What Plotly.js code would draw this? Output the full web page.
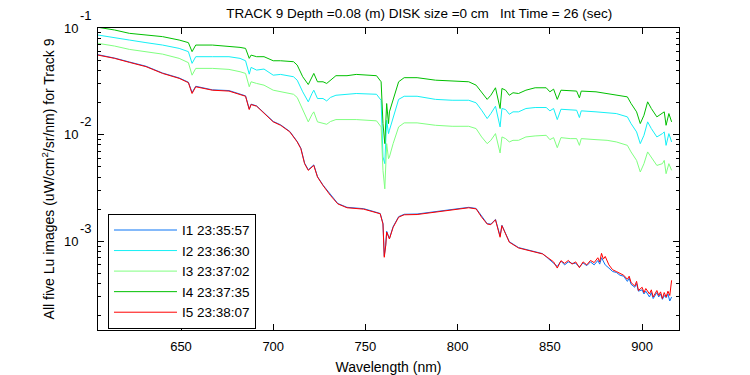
<!DOCTYPE html>
<html>
<head>
<meta charset="utf-8">
<script src="https://cdn.plot.ly/plotly-3.0.1.min.js"></script>
<style>html,body{margin:0;padding:0;background:#fff;}#chart{width:750px;height:375px;}</style>
</head>
<body>
<div id="chart"></div>
<script>
// Wavelength grid (nm) for the three upper spectra
const wlUpper = [605, 609, 614, 622, 631, 640, 649, 654, 656, 658,
  667, 676, 682, 685, 687, 688, 691, 695, 700, 704,
  711, 713, 716, 719, 721, 722, 724, 727, 729, 731,
  734, 740, 745, 756, 758.5, 759.5, 760.5, 761.5, 762.5, 763,
  765, 768, 771, 778, 788, 797, 806, 810, 813, 816,
  818, 820.5, 823, 824, 826, 828, 830, 833, 837, 842,
  848, 850, 852, 854, 856, 861, 864.5, 866, 867, 875,
  881, 886, 892, 894, 897, 899, 901, 903, 905, 908,
  911, 912, 913, 914.5, 916];

// I2 (cyan)
const lu2 = [0.0859, 0.0835, 0.0818, 0.0771, 0.0729, 0.0692, 0.0644, 0.0600, 0.0466, 0.0538,
  0.0538, 0.0538, 0.0519, 0.0493, 0.0369, 0.0427, 0.0403, 0.0412, 0.0361, 0.0367,
  0.0349, 0.0324, 0.0252, 0.0203, 0.0243, 0.0261, 0.0218, 0.0218, 0.0207, 0.0223,
  0.0234, 0.0238, 0.0243, 0.0239, 0.0210, 0.00617, 0.00534, 0.01363, 0.01022, 0.01098,
  0.01414, 0.0214, 0.0229, 0.0229, 0.0214, 0.0210, 0.0210, 0.01987, 0.01693, 0.01414,
  0.01576, 0.01846, 0.01181, 0.01757, 0.01718, 0.01552, 0.01635, 0.01635, 0.01757, 0.01795,
  0.01795, 0.01671, 0.01757, 0.01384, 0.01729, 0.01693, 0.01693, 0.01445, 0.01671, 0.01635,
  0.01611, 0.01576, 0.01467, 0.01269, 0.01060, 0.00823, 0.00985, 0.01317, 0.01139, 0.00951,
  0.01022, 0.01060, 0.00793, 0.01022, 0.00854];

// I3 (light green)
const lu3 = [0.0718, 0.0703, 0.0677, 0.0630, 0.0600, 0.0569, 0.0519, 0.0473, 0.0361, 0.0418,
  0.0418, 0.0409, 0.0389, 0.0375, 0.0281, 0.0313, 0.0302, 0.0291, 0.0261, 0.0252,
  0.0239, 0.0223, 0.01693, 0.01317, 0.01542, 0.01635, 0.01317, 0.01269, 0.01250, 0.01326,
  0.01384, 0.01384, 0.01384, 0.01346, 0.01181, 0.00462, 0.00310, 0.00823, 0.00594, 0.00617,
  0.00823, 0.01181, 0.01289, 0.01289, 0.01223, 0.01197, 0.01197, 0.01139, 0.00951, 0.00823,
  0.00884, 0.01022, 0.00673, 0.00951, 0.00917, 0.00854, 0.00884, 0.00884, 0.00951, 0.00972,
  0.00985, 0.00897, 0.00937, 0.00754, 0.00937, 0.00917, 0.00917, 0.00793, 0.00917, 0.00897,
  0.00884, 0.00854, 0.00793, 0.00688, 0.00573, 0.00446, 0.00534, 0.00688, 0.00617, 0.00514,
  0.00534, 0.00573, 0.00430, 0.00534, 0.00462];

// I4 (green)
const lu4 = [0.1015, 0.0994, 0.0958, 0.0891, 0.0859, 0.0830, 0.0771, 0.0729, 0.0600, 0.0692,
  0.0692, 0.0677, 0.0658, 0.0644, 0.0519, 0.0557, 0.0538, 0.0538, 0.0493, 0.0493,
  0.0483, 0.0449, 0.0349, 0.0295, 0.0349, 0.0375, 0.0313, 0.0313, 0.0302, 0.0324,
  0.0357, 0.0357, 0.0367, 0.0357, 0.0313, 0.01269, 0.00823, 0.01957, 0.01269, 0.01635,
  0.0210, 0.0313, 0.0342, 0.0342, 0.0324, 0.0317, 0.0313, 0.0291, 0.0252, 0.0214,
  0.0234, 0.0275, 0.01757, 0.0271, 0.0261, 0.0234, 0.0247, 0.0243, 0.0261, 0.0275,
  0.0275, 0.0252, 0.0267, 0.0214, 0.0261, 0.0256, 0.0256, 0.0221, 0.0256, 0.0252,
  0.0243, 0.0238, 0.0226, 0.0196, 0.01635, 0.01269, 0.01519, 0.0203, 0.01757, 0.01467,
  0.01576, 0.01635, 0.01223, 0.01576, 0.01317];

// Wavelength grid (nm) for the two lower spectra
const wlLower = [605, 609, 614, 622, 631, 640, 649, 654, 656, 658,
  667, 676, 682, 685, 687, 688, 691, 695, 700, 704,
  709, 713, 715, 717, 719, 722, 724, 727, 731, 735,
  740, 749, 754, 758, 759.5, 760.2, 761, 761.5, 763, 765,
  768, 771, 778, 788, 797, 806, 810, 813, 816, 818,
  820.5, 823, 824, 826, 828, 833, 837, 842, 846, 848,
  850, 852, 854, 856, 858, 860, 862, 864, 866, 868,
  870, 872, 874, 876, 877, 878, 879, 880, 882, 884,
  886, 888, 890, 892, 893, 894, 896, 897, 898, 900,
  901, 902, 904, 905, 906, 908, 909, 910, 911, 912,
  913, 914, 915, 916];

// I1 (blue)
const lu1 = [0.0562, 0.0545, 0.0522, 0.0480, 0.0438, 0.0378, 0.0340, 0.0310, 0.0248, 0.0284,
  0.0263, 0.0259, 0.0241, 0.0231, 0.01740, 0.01930, 0.01860, 0.01590, 0.01330, 0.01235,
  0.01070, 0.00862, 0.00745, 0.00540, 0.00468, 0.00520, 0.00404, 0.00336, 0.00272, 0.00226,
  0.00208, 0.00202, 0.00191, 0.00182, 0.00147, 0.000730, 0.000925, 0.00124, 0.00106, 0.00137,
  0.00170, 0.00179, 0.00180, 0.00189, 0.00199, 0.00208, 0.00203, 0.00170, 0.00146, 0.00145,
  0.00160, 0.00112, 0.00141, 0.00118, 0.000990, 0.000872, 0.000840, 0.000805, 0.000765, 0.000715,
  0.000670, 0.000630, 0.000580, 0.000650, 0.000600, 0.000640, 0.000620, 0.000620, 0.000575, 0.000625,
  0.000590, 0.000640, 0.000600, 0.000660, 0.000610, 0.000700, 0.000650, 0.000600, 0.000560, 0.000520,
  0.000510, 0.000480, 0.000470, 0.000420, 0.000450, 0.000395, 0.000370, 0.000400, 0.000340, 0.000350,
  0.000320, 0.000340, 0.000300, 0.000330, 0.000290, 0.000330, 0.000300, 0.000320, 0.000285, 0.000310,
  0.000295, 0.000320, 0.000275, 0.000300];

// I5 (red)
const lu5 = [0.0557, 0.0540, 0.0519, 0.0476, 0.0434, 0.0375, 0.0337, 0.0307, 0.0243, 0.0281,
  0.0261, 0.0256, 0.0239, 0.0229, 0.01718, 0.01915, 0.01846, 0.01576, 0.01317, 0.01223,
  0.01060, 0.00854, 0.00738, 0.00534, 0.00462, 0.00514, 0.00400, 0.00333, 0.00269, 0.00224,
  0.00206, 0.00200, 0.00190, 0.00181, 0.00145, 0.000707, 0.000909, 0.00122, 0.00105, 0.00135,
  0.00168, 0.00177, 0.00178, 0.00187, 0.00197, 0.00206, 0.00201, 0.00168, 0.00145, 0.00143,
  0.00159, 0.00109, 0.00140, 0.00117, 0.000979, 0.000865, 0.000834, 0.000798, 0.000760, 0.000720,
  0.000682, 0.000640, 0.000560, 0.000657, 0.000620, 0.000660, 0.000610, 0.000640, 0.000565, 0.000640,
  0.000600, 0.000660, 0.000630, 0.000700, 0.000640, 0.000770, 0.000680, 0.000720, 0.000600, 0.000540,
  0.000520, 0.000495, 0.000480, 0.000440, 0.000470, 0.000410, 0.000380, 0.000420, 0.000345, 0.000370,
  0.000330, 0.000360, 0.000320, 0.000350, 0.000300, 0.000345, 0.000310, 0.000335, 0.000290, 0.000330,
  0.000300, 0.000340, 0.000310, 0.000430];

const legendNames = ['I1 23:35:57', 'I2 23:36:30', 'I3 23:37:02', 'I4 23:37:35', 'I5 23:38:07'];
const lineColors = ['#0A74F5', '#14F0F5', '#80FF80', '#00C000', '#FF0000'];
const xTicks = [650, 700, 750, 800, 850, 900];
const yTicks = [0.001, 0.01, 0.1];
const yTickMantissa = ['10', '10', '10'];
const yTickExponent = ['-3', '-2', '-1'];
const yMinor = [0.0002, 0.0003, 0.0004, 0.0005, 0.0006, 0.0007, 0.0008, 0.0009,
  0.002, 0.003, 0.004, 0.005, 0.006, 0.007, 0.008, 0.009,
  0.02, 0.03, 0.04, 0.05, 0.06, 0.07, 0.08, 0.09];

const xs = [wlLower, wlUpper, wlUpper, wlUpper, wlLower];
const ys = [lu1, lu2, lu3, lu4, lu5];
const traces = ys.map((y, i) => ({
  x: xs[i], y: y, type: 'scatter', mode: 'lines', name: legendNames[i],
  line: {color: lineColors[i], width: 1}
}));

const fam = 'Liberation Sans, Arial, sans-serif';
const f = (s) => ({family: fam, size: s, color: '#000'});

const expAnnotations = yTicks.map((v, i) => ({
  xref: 'paper', yref: 'y', x: 0, y: Math.log10(v), text: yTickExponent[i],
  showarrow: false, xanchor: 'center', yanchor: 'middle', xshift: -12, yshift: 13,
  font: f(13)
}));

const layout = {
  width: 750, height: 375,
  margin: {l: 98, r: 71, t: 28, b: 45},
  paper_bgcolor: '#fff', plot_bgcolor: '#fff',
  font: f(13),
  showlegend: true,
  title: {text: 'TRACK 9 Depth =0.08 (m) DISK size =0 cm   Int Time = 26 (sec)', x: 0.559, xref: 'container', xanchor: 'center', y: 0.965, yanchor: 'middle', font: f(13.5)},
  xaxis: {
    range: [605, 920], tickvals: xTicks, ticks: 'inside', ticklen: 6, tickcolor: '#000',
    showline: true, linecolor: '#000', linewidth: 1, mirror: 'ticks',
    showgrid: false, zeroline: false, tickfont: f(13), ticklabelstandoff: 4,
    title: {text: 'Wavelength (nm)', font: f(14), standoff: 10}
  },
  yaxis: {
    type: 'log', range: [Math.log10(0.000147), -1], tickvals: yTicks, ticktext: yTickMantissa,
    ticks: 'inside', ticklen: 6, tickcolor: '#000', ticklabelstandoff: 16,
    minor: {tickvals: yMinor, ticks: 'inside', ticklen: 3, tickcolor: '#000'},
    showline: true, linecolor: '#000', linewidth: 1, mirror: 'ticks',
    showgrid: false, zeroline: false, tickfont: f(13),
    title: {text: 'All five Lu images (uW/cm<sup>2</sup>/sr/nm) for Track 9', font: f(14), standoff: 6}
  },
  annotations: expAnnotations,
  legend: {
    x: 0.0172, y: 0.385, xanchor: 'left', yanchor: 'top',
    bgcolor: '#fff', bordercolor: '#000', borderwidth: 1,
    font: f(13.5), itemwidth: 63, tracegroupgap: 0,
    traceorder: 'normal'
  }
};

Plotly.newPlot('chart', traces, layout, {displayModeBar: false, staticPlot: true});
</script>
</body>
</html>
